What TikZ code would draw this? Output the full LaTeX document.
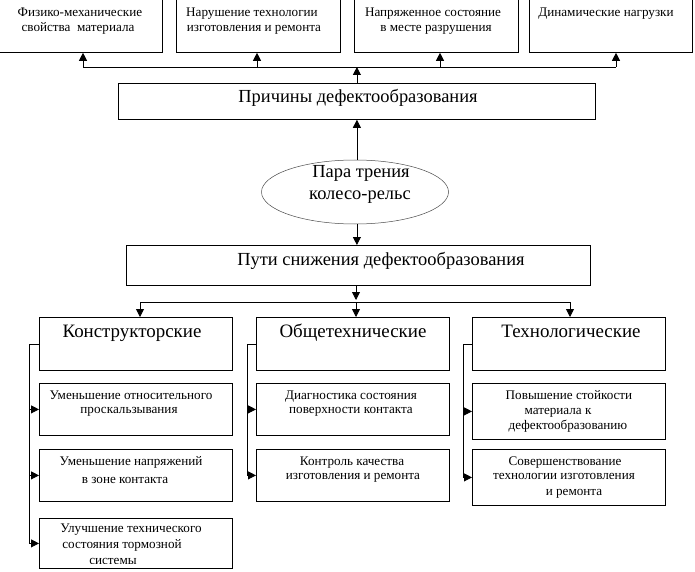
\documentclass[tikz,border=0pt]{standalone}
\usepackage{fontspec}
\setmainfont{Liberation Serif}
\usetikzlibrary{arrows.meta,shapes.geometric}
\begin{document}
\begin{tikzpicture}[x=1bp,y=-1bp,
 box/.style={draw,line width=0.8bp,rectangle,inner sep=0pt,anchor=north west},
 small/.style={font=\fontsize{13.2}{15}\selectfont,inner sep=0pt,anchor=mid},
 big/.style={font=\fontsize{18.5}{20}\selectfont,inner sep=0pt,anchor=mid},
 head/.style={font=\fontsize{19}{20}\selectfont,inner sep=0pt,anchor=mid},
 ln/.style={line width=0.8bp},
 arr/.style={line width=0.8bp,-{Triangle[length=8bp,width=8bp]}}]
\useasboundingbox (0,0) rectangle (695,572);
\clip (0,0) rectangle (695,572);
\fill[white] (0,0) rectangle (695,572);

% top boxes
\node[box,minimum width=164bp,minimum height=62bp] (t1) at (-2,-10) {};
\node[box,minimum width=164bp,minimum height=62bp] (t2) at (176,-10) {};
\node[box,minimum width=164bp,minimum height=62bp] (t3) at (354,-10) {};
\node[box,minimum width=163bp,minimum height=62bp] (t4) at (529,-10) {};
\node[small] (t1a) at (80,14) {Физико-механические};
\node[small] (t1b) at (78,29) {свойства\ \ материала};
\node[small] (t2a) at (252,14) {Нарушение технологии};
\node[small] (t2b) at (254,29) {изготовления и ремонта};
\node[small] (t3a) at (433,14) {Напряженное состояние};
\node[small] (t3b) at (436,29) {в месте разрушения};
\node[small] (t4a) at (606,14) {Динамические нагрузки};

% causes
\node[box,minimum width=477bp,minimum height=36bp] (prich) at (118,83) {};
\node[big] (pricht) at (358,100) {Причины дефектообразования};

% ellipse
\node[ellipse,draw=black!70,line width=0.5bp,minimum width=187bp,minimum height=64bp] (el) at (355,192) {};
\node[big] (ela) at (361,175) {Пара трения};
\node[big] (elb) at (360,197) {колесо-рельс};

% ways
\node[box,minimum width=464bp,minimum height=40bp] (puti) at (126,245) {};
\node[big] (putit) at (381,263) {Пути снижения дефектообразования};

% three groups
\node[box,minimum width=193bp,minimum height=53bp] (k) at (39,317) {};
\node[box,minimum width=193bp,minimum height=53bp] (o) at (256,317) {};
\node[box,minimum width=193bp,minimum height=53bp] (t) at (472,317) {};
\node[head] (kt) at (132,335) {Конструкторские};
\node[head] (ot) at (353,335) {Общетехнические};
\node[head] (tt) at (571,335) {Технологические};

% sub boxes
\node[box,minimum width=193bp,minimum height=52bp] (k1) at (39,383) {};
\node[box,minimum width=193bp,minimum height=52bp] (k2) at (39,449) {};
\node[box,minimum width=193bp,minimum height=50bp] (k3) at (39,518) {};
\node[box,minimum width=193bp,minimum height=52bp] (o1) at (256,383) {};
\node[box,minimum width=193bp,minimum height=52bp] (o2) at (256,449) {};
\node[box,minimum width=193bp,minimum height=56bp] (s1) at (472,383) {};
\node[box,minimum width=193bp,minimum height=56bp] (s2) at (472,449) {};

\node[small] (k1a) at (131,397) {Уменьшение относительного};
\node[small] (k1b) at (129,411) {проскальзывания};
\node[small] (k2a) at (131,463) {Уменьшение напряжений};
\node[small] (k2b) at (125,481) {в зоне контакта};
\node[small] (k3a) at (131,530) {Улучшение технического};
\node[small] (k3b) at (122,546) {состояния тормозной};
\begin{scope}
\clip (k3.north west) rectangle ([yshift=5bp]k3.south east);
\node[small] (k3c) at (113,562) {системы};
\end{scope}
\node[small] (o1a) at (351,397) {Диагностика состояния};
\node[small] (o1b) at (351,411) {поверхности контакта};
\node[small] (o2a) at (352,463) {Контроль качества};
\node[small] (o2b) at (353,477) {изготовления и ремонта};
\node[small] (s1a) at (569,397) {Повышение стойкости};
\node[small] (s1b) at (558,412) {материала к};
\node[small] (s1c) at (568,427) {дефектообразованию};
\node[small] (s2a) at (565,463) {Совершенствование};
\node[small] (s2b) at (564,477) {технологии изготовления};
\node[small] (s2c) at (574,493) {и ремонта};

% top bus
\coordinate (bL) at (83,67);
\coordinate (bR) at (616,67);
\coordinate (b2) at (257,67);
\coordinate (b3) at (440,67);
\draw[arr] (prich.north) -- (prich.north |- bL);
\draw[ln] (bL) -- (bR);
\draw[arr] (bL) -- (bL |- t1.south);
\draw[arr] (b2) -- (b2 |- t2.south);
\draw[arr] (b3) -- (b3 |- t3.south);
\draw[arr] (bR) -- (bR |- t4.south);

% ellipse links
\draw[arr] (el.north -| prich.north) -- (prich.south);
\draw[arr] (el.south -| prich.north) -- (prich.north |- puti.north);

% lower bus
\coordinate (mL) at (140,302);
\coordinate (mC) at (356,302);
\coordinate (mR) at (570,302);
\draw[arr] (mC |- puti.south) -- ([yshift=2bp]mC);
\draw[ln] (mL) -- (mR);
\draw[arr] (mL) -- (mL |- k.north);
\draw[arr] (mC) -- (mC |- o.north);
\draw[arr] (mR) -- (mR |- t.north);

% side branches
\coordinate (kx) at (29,0);
\coordinate (ox) at (247,0);
\coordinate (tx) at (463,0);
\draw[ln] (k.west) -- (k.west -| kx) -- (k3.west -| kx);
\draw[arr] (k1.west -| kx) -- (k1.west);
\draw[arr] (k2.west -| kx) -- (k2.west);
\draw[arr] (k3.west -| kx) -- (k3.west);
\draw[ln] (o.west) -- (o.west -| ox) -- (o2.west -| ox);
\draw[arr] (o1.west -| ox) -- (o1.west);
\draw[arr] (o2.west -| ox) -- (o2.west);
\draw[ln] (t.west) -- (t.west -| tx) -- (s2.west -| tx);
\draw[arr] (s1.west -| tx) -- (s1.west);
\draw[arr] (s2.west -| tx) -- (s2.west);
\end{tikzpicture}
\end{document}
